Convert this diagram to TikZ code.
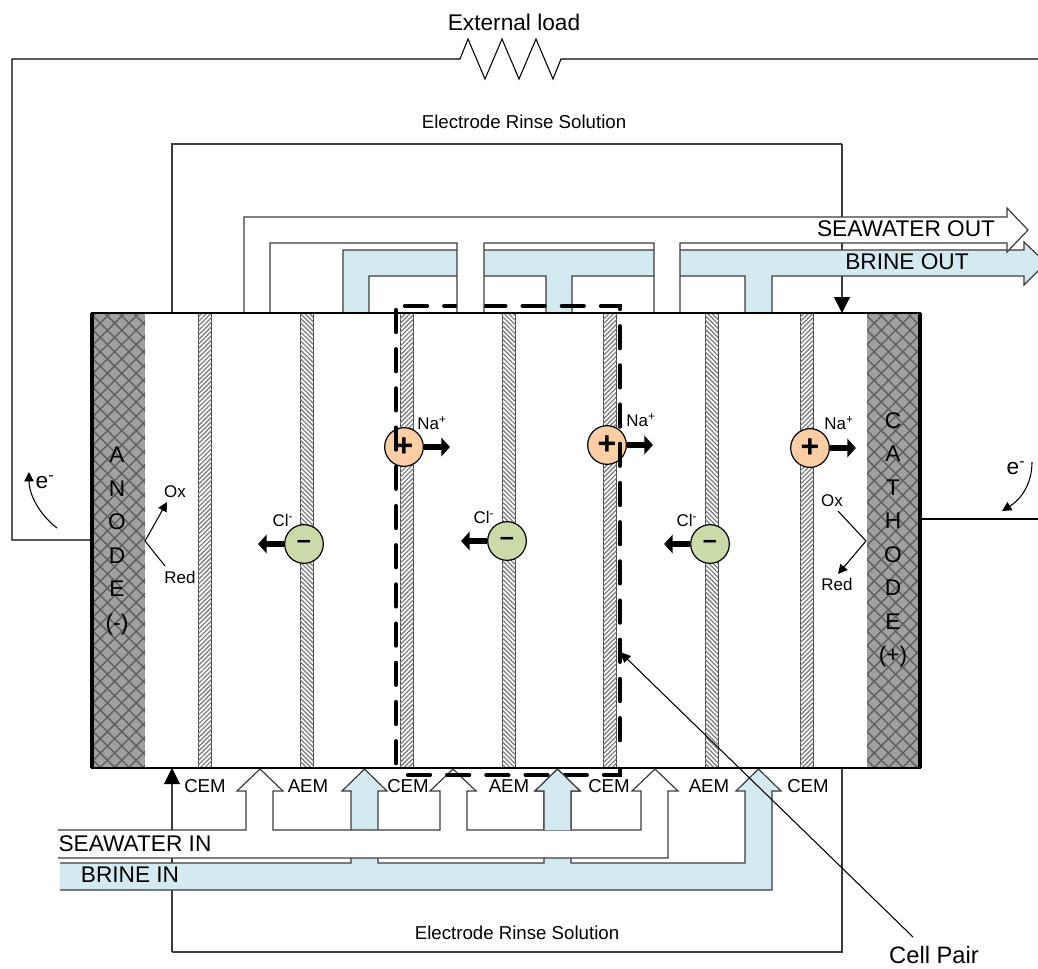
\documentclass[tikz,border=0pt]{standalone}
\usepackage{fontspec}
\setmainfont{Liberation Sans}
\usepackage{tikz}
\usetikzlibrary{arrows.meta}
\usetikzlibrary{patterns.meta}

\definecolor{brinecolor}{HTML}{D2EAF0}
\definecolor{linecolor}{HTML}{3C3C3C}
\definecolor{cationcolor}{HTML}{FBCEA6}
\definecolor{anioncolor}{HTML}{CBDAA9}
\definecolor{electrodecolor}{HTML}{A0A0A0}

\begin{document}
\begin{tikzpicture}[x=0.75pt,y=-0.75pt]
        \tikzset{wire/.style = {draw=linecolor,line width=0.8pt}}
        \tikzset{thinwire/.style = {draw=black,line width=0.8pt}}
        \tikzset{tipped/.style = {-{Triangle[length=12pt,width=12pt,color=black]}}}
        \tikzset{smalltip/.style = {-{Triangle[length=7pt,width=7pt]}}}
        \tikzset{seawater/.style = {draw=linecolor,line width=0.9pt,fill=white}}
        \tikzset{brine/.style = {draw=linecolor,line width=0.9pt,fill=brinecolor}}
        \tikzset{bigtext/.style = {font=\fontsize{17}{18}\selectfont,inner sep=0pt}}
        \tikzset{midtext/.style = {font=\fontsize{14}{16}\selectfont,inner sep=0pt}}
        \tikzset{smalltext/.style = {font=\fontsize{12.7}{15}\selectfont,inner sep=0pt}}
        \tikzset{electrodetext/.style = {font=\fontsize{17}{25.1}\selectfont,align=center,inner sep=0pt}}
        \tikzset{ion/.style = {shape=circle,draw=black,line width=0.9pt,minimum size=29pt,inner sep=0pt,font=\fontsize{24}{24}\selectfont\bfseries}}
        \tikzset{ionarrow/.style = {-{Triangle[length=6.5pt,width=14pt]},line width=4.6pt}}
        \tikzset{pairbox/.style = {draw=black,line width=3.2pt,line cap=round,dash pattern=on 16.5pt off 12.9pt}}

        \useasboundingbox (0,0) rectangle (1038,968);
        \clip (0,0) rectangle (1038,968);

        % electrode rinse loops and external circuit
        \coordinate (rinsetop) at (172,313);
        \coordinate (rinseend) at (842,313);
        \coordinate (rinsebot) at (172,768);
        \coordinate (rinsestart) at (842,768);
        \draw[wire] (rinsetop) -- (172,144) -- (842,144);
        \draw[wire,tipped] (842,144) -- (rinseend);
        \draw[wire] (rinsestart) -- (842,952) -- (172,952);
        \draw[wire,tipped] (172,952) -- (rinsebot);
        \coordinate (anodeport) at (92,540);
        \coordinate (cathodeport) at (920,519);
        \coordinate (rightedge) at (1038,519);
        \coordinate (topedge) at (1038,59);
        \draw[thinwire] (anodeport) -- (12,540) -- (12,59) -- (460,59) -- (468,39) -- (485,79) -- (502,39)
            -- (519,79) -- (536,39) -- (553,79) -- (561,59) -- (topedge);
        \draw[thinwire] (cathodeport) -- (rightedge);

        % electrodes and membranes
        \fill[electrodecolor] (92,313) rectangle (145,768);
        \fill[electrodecolor] (867,313) rectangle (920,768);
        \foreach \ang in {45,135} {
            \fill[pattern={Lines[angle=\ang,distance=7.6pt,line width=1.1pt]},pattern color=black!62] (92,313) rectangle (145,768);
            \fill[pattern={Lines[angle=\ang,distance=7.6pt,line width=1.1pt]},pattern color=black!62] (867,313) rectangle (920,768);
        }
        \foreach \xpos/\ang in {198/45,300/135,400/45,502/135,603/45,705/135,800/45} {
            \draw[draw=black!75,line width=0.6pt,fill=white] (\xpos,313) rectangle (\xpos+13.5,768);
            \fill[pattern={Lines[angle=\ang,distance=2.4pt,line width=1pt]},pattern color=black!50] (\xpos,313) rectangle (\xpos+13.5,768);
        }

        % ions
        \node[ion,fill=cationcolor] (catone) at (404,447) {+};
        \node[ion,fill=cationcolor] (cattwo) at (607,445) {+};
        \node[ion,fill=cationcolor] (catthree) at (810,448) {+};
        \node[ion,fill=anioncolor,font=\fontsize{19}{19}\selectfont\bfseries] (anone) at (304,544) {–};
        \node[ion,fill=anioncolor,font=\fontsize{19}{19}\selectfont\bfseries] (antwo) at (507,541) {–};
        \node[ion,fill=anioncolor,font=\fontsize{19}{19}\selectfont\bfseries] (anthree) at (710,544) {–};
        \foreach \n in {catone,cattwo,catthree} {
            \draw[ionarrow] (\n.east) -- ++(26,0);
        }
        \foreach \n in {anone,antwo,anthree} {
            \draw[ionarrow] (\n.west) -- ++(-26,0);
        }
        \node[smalltext] (naone) at (432,423) {Na\textsuperscript{+}};
        \node[smalltext] (natwo) at (641,420) {Na\textsuperscript{+}};
        \node[smalltext] (nathree) at (839,423) {Na\textsuperscript{+}};
        \node[smalltext] (clone) at (283,520) {Cl\textsuperscript{-}};
        \node[smalltext] (cltwo) at (484,517) {Cl\textsuperscript{-}};
        \node[smalltext] (clthree) at (687,520) {Cl\textsuperscript{-}};

        % outlet and inlet streams
        \draw[brine] (343,313) -- (343,250) -- (1024,250) -- (1024,242) -- (1046,263) -- (1024,285) -- (1024,276)
            -- (772,276) -- (772,313) -- (745,313) -- (745,276) -- (572,276) -- (572,313) -- (546,313) -- (546,276)
            -- (369,276) -- (369,313) -- cycle;
        \draw[brine] (60,863) -- (351,863) -- (351,791) -- (342,791) -- (364.5,769) -- (387,791) -- (378,791)
            -- (378,863) -- (544,863) -- (544,791) -- (535,791) -- (557.5,769) -- (580,791) -- (571,791) -- (571,863)
            -- (745,863) -- (745,791) -- (736,791) -- (758.5,769) -- (781,791) -- (772,791) -- (772,890) -- (60,890);
        \draw[seawater] (58,830) -- (246,830) -- (246,791) -- (237,791) -- (260,769) -- (283,791) -- (273,791)
            -- (273,830) -- (440,830) -- (440,791) -- (430,791) -- (453,769) -- (476,791) -- (467,791) -- (467,830)
            -- (641,830) -- (641,791) -- (632,791) -- (655,769) -- (678,791) -- (668,791) -- (668,858) -- (58,858);

        % cell pair outline
        \draw[pairbox] (396,310) -- (396,770) (408,775) -- (620,775) -- (620,762) (405,306) -- (620,306) -- (620,752);

        % these sit over the outline
        \draw[brine] (544,830) -- (544,791) -- (535,791) -- (557.5,769) -- (580,791) -- (571,791) -- (571,830);
        \draw[seawater] (244,313) -- (244,217) -- (1007,217) -- (1007,208) -- (1028,230) -- (1007,252) -- (1007,243)
            -- (680,243) -- (680,313) -- (654,313) -- (654,243) -- (484,243) -- (484,313) -- (457,313) -- (457,243)
            -- (270,243) -- (270,313) -- cycle;

        % cell frame
        \draw[draw=black,line width=1.3pt] (92,313) rectangle (920,768);
        \draw[draw=black,line width=2.4pt] (92,313) -- (92,768);
        \draw[draw=black,line width=2.4pt] (920,313) -- (920,768);

        % electrode reactions
        \coordinate (anodeface) at (145,541);
        \coordinate (cathodeface) at (866,541);
        \node[smalltext] (oxleft) at (175,492) {Ox};
        \node[smalltext] (redleft) at (180,577) {Red};
        \node[smalltext] (oxright) at (832,501) {Ox};
        \node[smalltext] (redright) at (837,584) {Red};
        \coordinate (oxlefttip) at (167,502);
        \coordinate (redleftend) at (165,566);
        \coordinate (oxrightend) at (838,511);
        \coordinate (redrighttip) at (838,574);
        \draw[thinwire,smalltip] (anodeface) -- (oxlefttip);
        \draw[thinwire] (anodeface) -- (redleftend);
        \draw[thinwire] (cathodeface) -- (oxrightend);
        \draw[thinwire,smalltip] (cathodeface) -- (redrighttip);

        % electron flow
        \node[bigtext] (eleft) at (45,482) {e\textsuperscript{-}};
        \node[bigtext] (eright) at (1016,468) {e\textsuperscript{-}};
        \coordinate (eleftstart) at (57,528);
        \coordinate (elefttip) at (29,472);
        \coordinate (erightstart) at (1032,462);
        \coordinate (erighttip) at (1002,511);
        \draw[thinwire,smalltip] (eleftstart) .. controls (40,515) and (29,495) .. (elefttip);
        \draw[thinwire,smalltip] (erightstart) .. controls (1032,485) and (1020,500) .. (erighttip);

        % cell pair pointer
        \node[bigtext,font=\fontsize{17.8}{18}\selectfont] (cellpair) at (934,955) {Cell Pair};
        \coordinate (pairtail) at (913,937);
        \coordinate (pairtip) at (620,652);
        \draw[thinwire,-{Triangle[length=8pt,width=7pt]}] (pairtail) -- (pairtip);

        % texts
        \node[electrodetext] (anode) at (117,541) {A\\N\\O\\D\\E\\(-)};
        \node[electrodetext] (cathode) at (893,540) {C\\A\\T\\H\\O\\D\\E\\(+)};
        \node[bigtext] (load) at (514,22) {External load};
        \node[midtext] (rinseupper) at (524,122) {Electrode Rinse Solution};
        \node[midtext] (rinselower) at (517,933) {Electrode Rinse Solution};
        \node[bigtext] (seaout) at (906,229) {SEAWATER OUT};
        \node[bigtext] (brineout) at (907,262) {BRINE OUT};
        \node[bigtext] (seain) at (135,844) {SEAWATER IN};
        \node[bigtext] (brinein) at (130,875) {BRINE IN};
        \foreach \xpos/\lab in {205/CEM,308/AEM,408/CEM,509/AEM,609/CEM,709/AEM,808/CEM} {
            \node[midtext] at (\xpos,786.5) {\lab};
        }
\end{tikzpicture}
\end{document}
